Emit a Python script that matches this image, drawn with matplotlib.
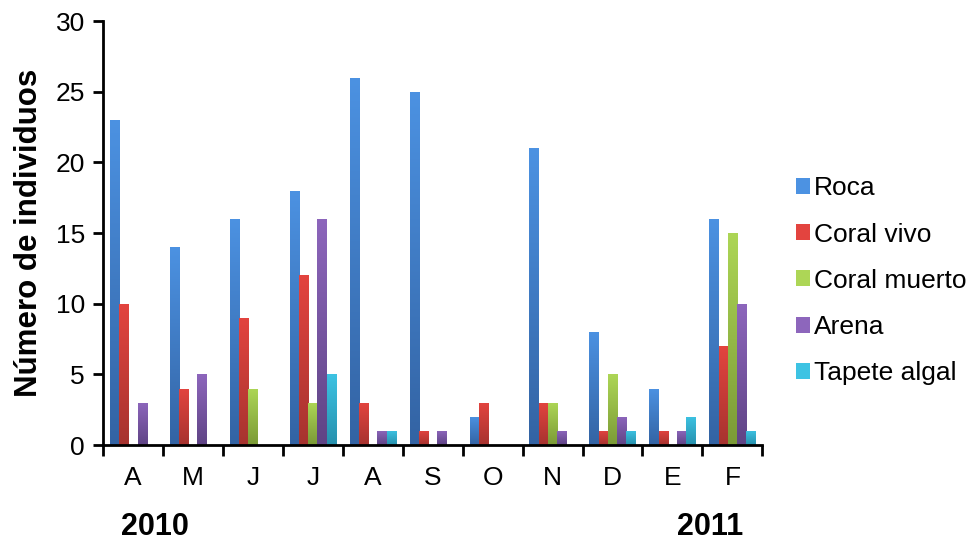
import numpy as np
import matplotlib
matplotlib.use("Agg")
import matplotlib.pyplot as plt
from matplotlib.colors import LinearSegmentedColormap
from matplotlib.patches import Patch

plt.rcParams['font.family'] = ['Liberation Sans', 'DejaVu Sans']

meses = ['A', 'M', 'J', 'J', 'A', 'S', 'O', 'N', 'D', 'E', 'F']
series = ['Roca', 'Coral vivo', 'Coral muerto', 'Arena', 'Tapete algal']

roca = [23, 14, 16, 18, 26, 25, 2, 21, 8, 4, 16]
coral_vivo = [10, 4, 9, 12, 3, 1, 3, 3, 1, 1, 7]
coral_muerto = [0, 0, 4, 3, 0, 0, 0, 3, 5, 0, 15]
arena = [3, 5, 0, 16, 1, 1, 0, 1, 2, 1, 10]
tapete = [0, 0, 0, 5, 1, 0, 0, 0, 1, 2, 1]
valores = [roca, coral_vivo, coral_muerto, arena, tapete]

# (top, bottom) colours for the gradient fill of each series
colores = [('#4C92E2', '#3363A3'),
           ('#E3443F', '#A6332F'),
           ('#ADD656', '#7B9A36'),
           ('#8D66BC', '#5F4485'),
           ('#3DC3E3', '#2790AD')]

fig = plt.figure(figsize=(9.74, 5.41), dpi=100)
ax = fig.add_axes([0.1057, 0.1774, 0.677, 0.7836])

n = len(meses)
ancho = 1 / 6.5
x = np.arange(n)
grad = np.linspace(1, 0, 256).reshape(-1, 1)

for k, (nombre, vals, (c_top, c_bot)) in enumerate(zip(series, valores, colores)):
    cmap = LinearSegmentedColormap.from_list(nombre, [c_bot, c_top])
    pos = x + 0.5 + (k - 2) * ancho
    barras = ax.bar(pos, vals, width=ancho, color=c_top, edgecolor='none', zorder=2)
    for b, v in zip(barras, vals):
        if v <= 0:
            continue
        b.set_facecolor('none')
        x0 = b.get_x()
        im = ax.imshow(grad, cmap=cmap, aspect='auto', extent=(x0, x0 + ancho, 0, v),
                       zorder=2.5, interpolation='bilinear')
        im.set_clip_path(b)

ax.set_xlim(0, n)
ax.set_ylim(0, 30)

ax.set_yticks(range(0, 31, 5))
ax.tick_params(axis='y', direction='out', length=7, width=2, labelsize=19, pad=6)
ax.set_xticks(range(n + 1))
ax.set_xticklabels([])
ax.tick_params(axis='x', which='major', direction='out', length=8, width=2)
ax.set_xticks(x + 0.5, minor=True)
ax.set_xticklabels(meses, minor=True, fontsize=19)
ax.tick_params(axis='x', which='minor', length=0, pad=15)

for s in ['top', 'right']:
    ax.spines[s].set_visible(False)
for s in ['left', 'bottom']:
    ax.spines[s].set_linewidth(2)

ax.set_ylabel('Número de individuos', fontsize=22.5, fontweight='bold', labelpad=8)

fig.text(155 / 974, 1 - 527 / 541, '2010', fontsize=22, fontweight='bold',
         ha='center', va='center')
fig.text(710 / 974, 1 - 527 / 541, '2011', fontsize=22, fontweight='bold',
         ha='center', va='center')

handles = [Patch(facecolor=c[0], edgecolor='none') for c in colores]
fig.legend(handles, series, loc='center left', bbox_to_anchor=(0.817, 0.481),
           frameon=False, fontsize=19, handlelength=0.55, handleheight=0.55,
           handletextpad=0.15, labelspacing=0.84, borderpad=0, borderaxespad=0)

fig.savefig('out.png', dpi=100)
